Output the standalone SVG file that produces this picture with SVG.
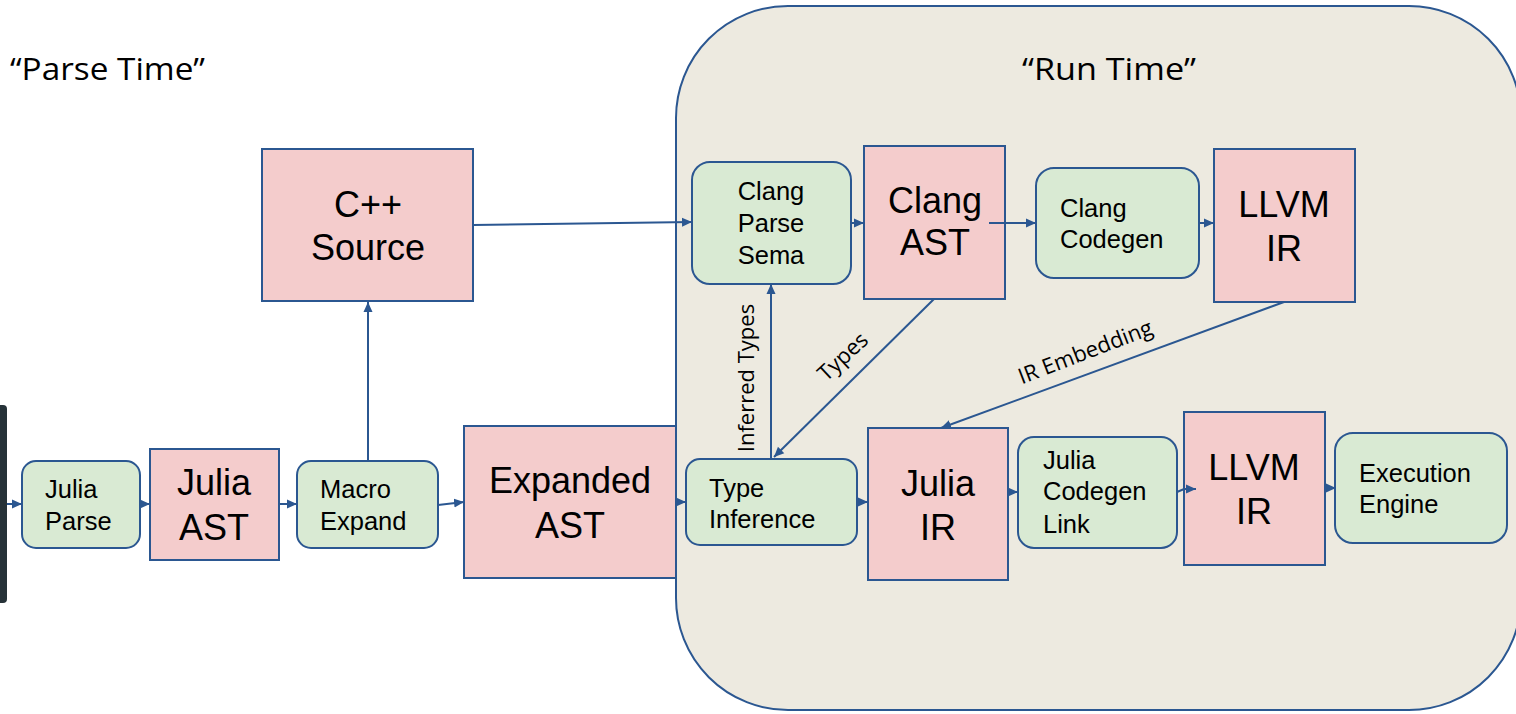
<svg xmlns="http://www.w3.org/2000/svg" width="1516" height="714" viewBox="0 0 1516 714">
<defs>
<marker id="ah" viewBox="0 0 10 10" refX="10" refY="5" markerWidth="10" markerHeight="10" markerUnits="userSpaceOnUse" orient="auto">
<path d="M0,0.5 L10,5 L0,9.5 Z" fill="#2b5791"/>
</marker>
<style>
.proc{fill:#d9ead3;stroke:#2b5791;stroke-width:2}
.data{fill:#f4cccc;stroke:#2b5791;stroke-width:2}
.st{font-family:"Liberation Sans",Arial,sans-serif;font-size:25.5px;fill:#000}
.bt{font-family:"Liberation Sans",Arial,sans-serif;font-size:36px;fill:#000;text-anchor:middle}
.lab{font-family:"Open Sans","Liberation Sans",sans-serif;font-size:22px;fill:#000}
.big{font-family:"Open Sans","Liberation Sans",sans-serif;font-size:31px;fill:#000}
.con{stroke:#2b5791;stroke-width:2;fill:none;marker-end:url(#ah)}
</style>
</defs>
<rect width="1516" height="714" fill="#ffffff"/>
<g id="runtime">
<rect x="676" y="6" width="845" height="704" rx="112" ry="112" fill="#edeae0" stroke="#2b5791" stroke-width="2"/>
<text class="big" x="1022" y="80" textLength="174" lengthAdjust="spacingAndGlyphs">“Run Time”</text>
</g>
<g id="parsetime"><text class="big" x="10" y="80" textLength="195" lengthAdjust="spacingAndGlyphs">“Parse Time”</text></g>
<g id="bar"><rect x="-6" y="405" width="13" height="198" rx="4" fill="#263238"/></g>

<g id="julia-parse"><rect class="proc" x="22" y="461" width="118" height="87" rx="14"/>
<text class="st" x="45" y="498">Julia</text><text class="st" x="45" y="530">Parse</text></g>
<g id="julia-ast"><rect class="data" x="150" y="449" width="129" height="111"/>
<text class="bt" x="214" y="495">Julia</text><text class="bt" x="214" y="540">AST</text></g>
<g id="macro-expand"><rect class="proc" x="297" y="461" width="141" height="87" rx="14"/>
<text class="st" x="320" y="498">Macro</text><text class="st" x="320" y="530">Expand</text></g>
<g id="cpp-source"><rect class="data" x="262" y="149" width="211" height="152"/>
<text class="bt" x="368" y="217">C++</text><text class="bt" x="368" y="260">Source</text></g>
<g id="expanded-ast"><rect class="data" x="464" y="426" width="212" height="152"/>
<text class="bt" x="570" y="493">Expanded</text><text class="bt" x="570" y="538">AST</text></g>
<g id="clang-parse-sema"><rect class="proc" x="692" y="162" width="159" height="122" rx="18"/>
<text class="st" x="771" y="200" text-anchor="middle">Clang</text><text class="st" x="771" y="232" text-anchor="middle">Parse</text><text class="st" x="771" y="264" text-anchor="middle">Sema</text></g>
<g id="clang-ast"><rect class="data" x="864" y="146" width="141" height="153"/>
<text class="bt" x="935" y="213">Clang</text><text class="bt" x="935" y="255">AST</text></g>
<g id="clang-codegen"><rect class="proc" x="1036" y="168" width="163" height="110" rx="18"/>
<text class="st" x="1060" y="217">Clang</text><text class="st" x="1060" y="248">Codegen</text></g>
<g id="llvm-ir-top"><rect class="data" x="1214" y="149" width="141" height="153"/>
<text class="bt" x="1284" y="217">LLVM</text><text class="bt" x="1284" y="261">IR</text></g>
<g id="type-inference"><rect class="proc" x="686" y="459" width="171" height="86" rx="14"/>
<text class="st" x="709" y="497">Type</text><text class="st" x="709" y="528">Inference</text></g>
<g id="julia-ir"><rect class="data" x="868" y="428" width="140" height="152"/>
<text class="bt" x="938" y="496">Julia</text><text class="bt" x="938" y="540">IR</text></g>
<g id="julia-codegen-link"><rect class="proc" x="1018" y="437" width="159" height="111" rx="16"/>
<text class="st" x="1043" y="469">Julia</text><text class="st" x="1043" y="500">Codegen</text><text class="st" x="1043" y="533">Link</text></g>
<g id="llvm-ir-bottom"><rect class="data" x="1184" y="412" width="141" height="153"/>
<text class="bt" x="1254" y="480">LLVM</text><text class="bt" x="1254" y="524">IR</text></g>
<g id="execution-engine"><rect class="proc" x="1335" y="433" width="172" height="110" rx="18"/>
<text class="st" x="1359" y="482">Execution</text><text class="st" x="1359" y="513">Engine</text></g>

<g id="connectors">
<line class="con" x1="7" y1="504" x2="22" y2="504"/>
<line class="con" x1="140" y1="504" x2="150" y2="504"/>
<line class="con" x1="279" y1="504" x2="297" y2="504"/>
<line class="con" x1="368" y1="461" x2="368" y2="302"/>
<line class="con" x1="438" y1="505" x2="464" y2="502"/>
<line class="con" x1="676" y1="502" x2="686" y2="502"/>
<line class="con" x1="473" y1="225" x2="692" y2="222"/>
<line class="con" x1="851" y1="223" x2="864" y2="223"/>
<line class="con" x1="989" y1="223" x2="1036" y2="223"/>
<line class="con" x1="1199" y1="223" x2="1214" y2="223"/>
<line class="con" x1="771" y1="459" x2="771" y2="284"/>
<line class="con" x1="934" y1="299" x2="774" y2="457"/>
<line class="con" x1="1284" y1="302" x2="941" y2="428"/>
<line class="con" x1="857" y1="502" x2="868" y2="502"/>
<line class="con" x1="1008" y1="492" x2="1018" y2="492"/>
<polyline class="con" points="1177,492 1184,489 1196,489"/>
<line class="con" x1="1325" y1="488" x2="1336" y2="488"/>
<text class="lab" transform="translate(754,378) rotate(-90)" text-anchor="middle">Inferred Types</text>
<text class="lab" transform="translate(848,362) rotate(-43)" text-anchor="middle">Types</text>
<text class="lab" transform="translate(1088,359) rotate(-21)" text-anchor="middle">IR Embedding</text>
</g>
</svg>
